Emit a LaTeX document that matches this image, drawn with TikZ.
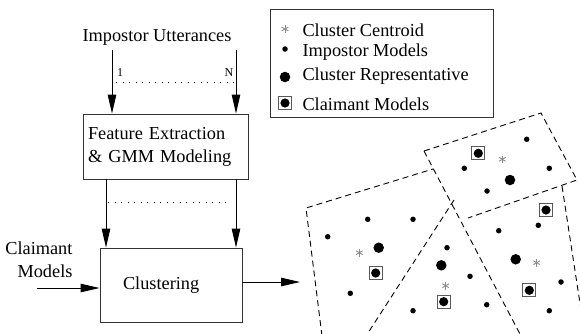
\documentclass[tikz,border=0pt]{standalone}
\usepackage{fontspec}
\setmainfont{Liberation Serif}
\usetikzlibrary{positioning,arrows.meta,calc}
\tikzset{
  blk/.style={draw=black!80,line width=0.9pt,inner sep=0pt},
  arr/.style={-{Triangle[length=19pt,width=8.5pt]},line width=0.9pt},
  dotln/.style={line width=1pt,dash pattern=on 0.9pt off 5.6pt},
  part/.style={line width=0.9pt,dash pattern=on 6pt off 4pt},
  imod/.style={circle,fill=black,inner sep=0pt,minimum size=5.5pt},  % impostor model
  crep/.style={circle,fill=black,inner sep=0pt,minimum size=10.5pt}, % cluster representative
  cmod/.style={draw=black!65,line width=1.1pt,inner sep=0pt,minimum size=13pt,
    path picture={\fill[black] (path picture bounding box.center) circle (4.6pt);}}, % claimant model
  small/.style={font=\fontsize{12}{14}\selectfont},
  cent/.pic={\foreach \a in {90,30,150}
    \draw[black!45,line width=0.9pt] (\a:3.8) -- (\a+180:3.8);},               % cluster centroid
}
\begin{document}
\begin{tikzpicture}[x=1pt,y=-1pt,font=\fontsize{18.3}{23}\selectfont]
  \useasboundingbox (0,0) rectangle (580,333);
  \clip (0,0) rectangle (580,333);

  % ---- processing chain ----
  \node (imp) at (157,37) {Impostor Utterances};
  \node[blk,minimum width=165pt,minimum height=65pt,text width=155pt,align=left]
    (feat) at (165.5,146.5) {Feature Extraction\\\& GMM Modeling};
  \node[blk,minimum width=142pt,minimum height=74pt,text width=96pt,align=left]
    (clus) at (171,285) {Clustering};
  \node[align=right,anchor=east] (claim) at (76,260) {Claimant\\Models};

  \coordinate (u1) at (112,50);
  \coordinate (uN) at (236,50);
  \draw[arr] (u1) -- (u1 |- feat.north);
  \draw[arr] (uN) -- (uN |- feat.north);
  \node[small] (n1) at (120,73) {1};
  \node[small] (nN) at (229,73) {N};
  \draw[dotln] (116,82) -- (234,82);

  \coordinate (f1) at (106,0);
  \coordinate (fN) at (236,0);
  \draw[arr] (f1 |- feat.south) -- (f1 |- clus.north);
  \draw[arr] (fN |- feat.south) -- (fN |- clus.north);
  \draw[dotln] (108,202) -- (231,202);

  \coordinate (cin) at (37,288);
  \draw[arr] (cin) -- (cin -| clus.west);
  \coordinate (cout) at (300,282);
  \draw[arr] (cout -| clus.east) -- (cout);

  % ---- legend ----
  \node[blk,minimum width=223pt,minimum height=108pt] (leg) at (381.5,63) {};
  \pic at (285,29) {cent};
  \node[imod] (l2) at (285,49) {};
  \node[crep] (l3) at (285,77) {};
  \node[cmod] (l4) at (285,103) {};
  \node[anchor=west] (t1) at (299,30) {Cluster Centroid};
  \node[anchor=west] (t2) at (299,52) {Impostor Models};
  \node[anchor=west] (t3) at (299,76) {Cluster Representative};
  \node[anchor=west] (t4) at (299,104) {Claimant Models};

  % ---- cluster partitions ----
  \draw[part] (424,151) -- (541,113) -- (577,180) -- (468,218);
  \draw[part] (424,151) -- (521,336);
  \draw[part] (322,336) -- (306,208) -- (433,169);
  \draw[part] (454,200) -- (366,336);
  \draw[part] (562,186) -- (585,336);

  % top-right cluster
  \node[imod] at (526.7,139.3) {};
  \node[cmod] at (478.3,153.3) {};
  \pic at (502.3,159.3) {cent};
  \node[imod] at (464.3,168.3) {};
  \node[imod] at (549.3,168.3) {};
  \node[crep] at (510,180) {};
  \node[imod] at (487,191) {};
  % right cluster
  \node[cmod] at (546,210) {};
  \node[imod] at (538.3,225.3) {};
  \node[imod] at (498.7,230.7) {};
  \node[crep] at (515.7,259.3) {};
  \pic at (536.7,262.7) {cent};
  \node[imod] at (561,282) {};
  \node[cmod] at (529.3,290.3) {};
  \node[imod] at (549.3,310.7) {};
  % middle cluster
  \node[imod] at (447,247.7) {};
  \node[crep] at (441.3,265.3) {};
  \node[imod] at (470,276.3) {};
  \pic at (445.7,285.7) {cent};
  \node[cmod] at (443.7,301.7) {};
  \node[imod] at (486.7,304.7) {};
  \node[imod] at (413,310.7) {};
  % left cluster
  \node[imod] at (367.7,219.3) {};
  \node[imod] at (413,219.3) {};
  \node[imod] at (327.7,236.7) {};
  \node[crep] at (378.7,247.7) {};
  \pic at (359.3,252.7) {cent};
  \node[cmod] at (375.7,273) {};
  \node[imod] at (350.3,293.3) {};
\end{tikzpicture}
\end{document}
